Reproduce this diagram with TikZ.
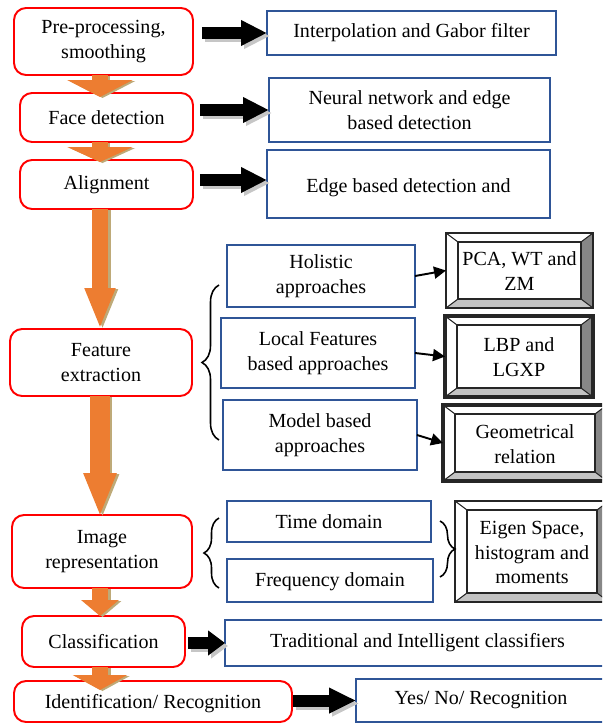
\documentclass[tikz,border=0pt]{standalone}
\usepackage{fontspec}
\setmainfont{Liberation Serif}
\usetikzlibrary{arrows.meta,positioning,calc,fit,decorations.pathreplacing}

\definecolor{boxred}{RGB}{255,0,0}
\definecolor{boxblue}{RGB}{47,85,151}
\definecolor{arrorange}{RGB}{237,125,49}
\definecolor{shadetan}{RGB}{190,170,120}
\definecolor{bevdark}{RGB}{135,135,135}
\definecolor{bevlight}{RGB}{195,195,195}

\tikzset{
  txt/.style={align=center,inner sep=0pt,outer sep=0pt,font=\rmfamily\fontsize{11.4}{14.2}\selectfont},
  stage/.style={txt,draw=boxred,line width=1.1pt,rounded corners=0.24cm,fill=white},
  method/.style={txt,draw=boxblue,line width=1.1pt,fill=white},
  bevel/.style={txt,draw=black!85,line width=0.8pt},
  blkarrow/.style={line width=0.24cm,-{Triangle[length=#1,width=0.48cm]}},
  orarrow/.style={draw=arrorange,-{Triangle[length=#1]}},
  thinarrow/.style={line width=1.1pt,-{Triangle[length=0.24cm,width=0.24cm]}},
  brace/.style={decorate,decoration={brace,amplitude=#1},line width=0.9pt}
}

% bevelled box: [style] name, x1, y1, x2, y2, text
\newcommand{\bevelbox}[7][]{%
  \fill[bevdark] (#5,#4) -- (#5,#6) -- (#5-12,#6-9) -- (#5-12,#4+9) -- cycle;
  \fill[bevlight] (#3,#6) -- (#5,#6) -- (#5-12,#6-9) -- (#3+12,#6-9) -- cycle;
  \draw[black!85,line width=0.6pt] (#3,#4) -- (#3+12,#4+9) (#5,#4) -- (#5-12,#4+9)
    (#3,#6) -- (#3+12,#6-9) (#5,#6) -- (#5-12,#6-9);
  \draw[black!85,line width=0.8pt] (#3+12,#4+9) rectangle (#5-12,#6-9);
  \node[bevel,#1,fit={(#3,#4) (#5,#6)}] (#2) {};
  \node[txt] at ($(#2.center)+(0,1)$) {#7};
}

\begin{document}
\begin{tikzpicture}[x=0.02cm,y=-0.02cm]
  \useasboundingbox (0,0) rectangle (602,723);
  \clip (0,0) rectangle (602,723);

  % stages
  \node[stage,minimum width=3.58cm,minimum height=1.34cm] (pre) at (103.5,41.5) {Pre-processing,\\smoothing};
  \node[stage,minimum width=3.46cm,minimum height=0.98cm] (face) at (106.5,117.5) {Face detection};
  \node[stage,minimum width=3.46cm,minimum height=0.98cm] (align) at (106.5,184.5) {Alignment};
  \node[stage,minimum width=3.64cm,minimum height=1.34cm] (feat) at (101,362.5) {Feature\\extraction};
  \node[stage,minimum width=3.60cm,minimum height=1.46cm] (imrep) at (102,551.5) {Image\\representation};
  \node[stage,minimum width=3.26cm,minimum height=1.02cm] (clas) at (103.5,641.5) {Classification};
  \node[stage,minimum width=5.56cm,minimum height=0.82cm,text height=0.38cm] (ident) at (153,701.5) {Identification/ Recognition};

  % methods
  \node[method,minimum width=5.78cm,minimum height=0.88cm] (interp) at (411.5,33) {Interpolation and Gabor filter};
  \node[method,minimum width=5.62cm,minimum height=1.28cm] (neural) at (409.5,110) {Neural network and edge\\based detection};
  \node[method,minimum width=5.66cm,minimum height=1.36cm,text height=0.42cm] (edge) at (408.5,184) {Edge based detection and};
  \node[method,minimum width=3.76cm,minimum height=1.24cm] (holi) at (321,276) {Holistic\\approaches};
  \node[method,minimum width=3.88cm,minimum height=1.40cm] (local) at (318,353) {Local Features\\based approaches};
  \node[method,minimum width=3.88cm,minimum height=1.40cm] (model) at (320,435) {Model based\\approaches};
  \node[method,minimum width=4.08cm,minimum height=0.82cm] (time) at (329,521.5) {Time domain};
  \node[method,minimum width=4.12cm,minimum height=0.86cm,text height=0.34cm] (freq) at (330,580.5) {Frequency domain};
  \node[method,minimum width=7.70cm,minimum height=0.92cm] (trad) at (417.5,643) {Traditional and Intelligent classifiers};
  \node[method,minimum width=5.00cm,minimum height=0.86cm] (yes) at (481,700.5) {Yes/ No/ Recognition};

  % results
  \bevelbox{pca}{446}{233}{593}{308}{PCA, WT and\\ZM}
  \bevelbox[line width=1.8pt]{lbp}{445}{316}{593}{397}{LBP and\\LGXP}
  \bevelbox[line width=1.8pt]{geo}{443}{405}{607}{481}{Geometrical\\relation}
  \bevelbox{eigen}{455}{501}{609}{602}{Eigen Space,\\histogram and\\moments}

  % flow down
  \coordinate (axis) at (100,0);
  \foreach \a/\b/\dy/\w/\l/\hw in {pre/face/4/0.32cm/0.34cm/1.30cm, face/align/2/0.32cm/0.30cm/1.30cm,
      align/feat/0/0.34cm/0.82cm/0.56cm, feat/imrep/2/0.40cm/0.88cm/0.60cm,
      imrep/clas/0/0.34cm/0.32cm/0.74cm, clas/ident/9/0.34cm/0.30cm/1.08cm} {
    \draw[orarrow=\l,draw=shadetan,line width=\w,arrows={-{Triangle[length=\l,width=\hw]}},
      transform canvas={xshift=0.05cm,yshift=-0.02cm}] (\a.south -| axis) -- ($(\b.north -| axis)+(0,\dy)$);
    \draw[orarrow=\l,line width=\w,arrows={-{Triangle[length=\l,width=\hw]}}]
      (\a.south -| axis) -- ($(\b.north -| axis)+(0,\dy)$);
  }

  % flow right
  \coordinate (s1) at ($(pre.east |- interp.west)+(9,0)$);
  \coordinate (s2) at ($(face.east |- neural.west)+(7,0)$);
  \coordinate (s3) at ($(align.east |- edge.west)+(7,-4)$);
  \coordinate (s4) at ($(clas.east |- trad.west)+(3,0)$);
  \coordinate (s5) at ($(ident.east |- yes.west)+(1,0)$);
  \foreach \a/\b/\l in {s1/interp/0.52cm, s2/neural/0.52cm, s3/edge/0.52cm, s4/trad/0.34cm, s5/yes/0.54cm} {
    \draw[blkarrow=\l,draw=gray!45,transform canvas={xshift=0.06cm,yshift=-0.06cm}] (\a) -- (\a -| \b.west);
    \draw[blkarrow=\l] (\a) -- (\a -| \b.west);
  }

  \draw[thinarrow] (holi.east) -- (pca.west);
  \draw[thinarrow] (local.east) -- (lbp.west);
  \draw[thinarrow] (model.east) -- (geo.west);

  % braces
  \draw[brace=0.34cm] (219,440) -- (219,285);
  \draw[brace=0.3cm] (219,588) -- (219,518);
  \draw[brace=0.3cm] (440,521) -- (440,577);
\end{tikzpicture}
\end{document}
